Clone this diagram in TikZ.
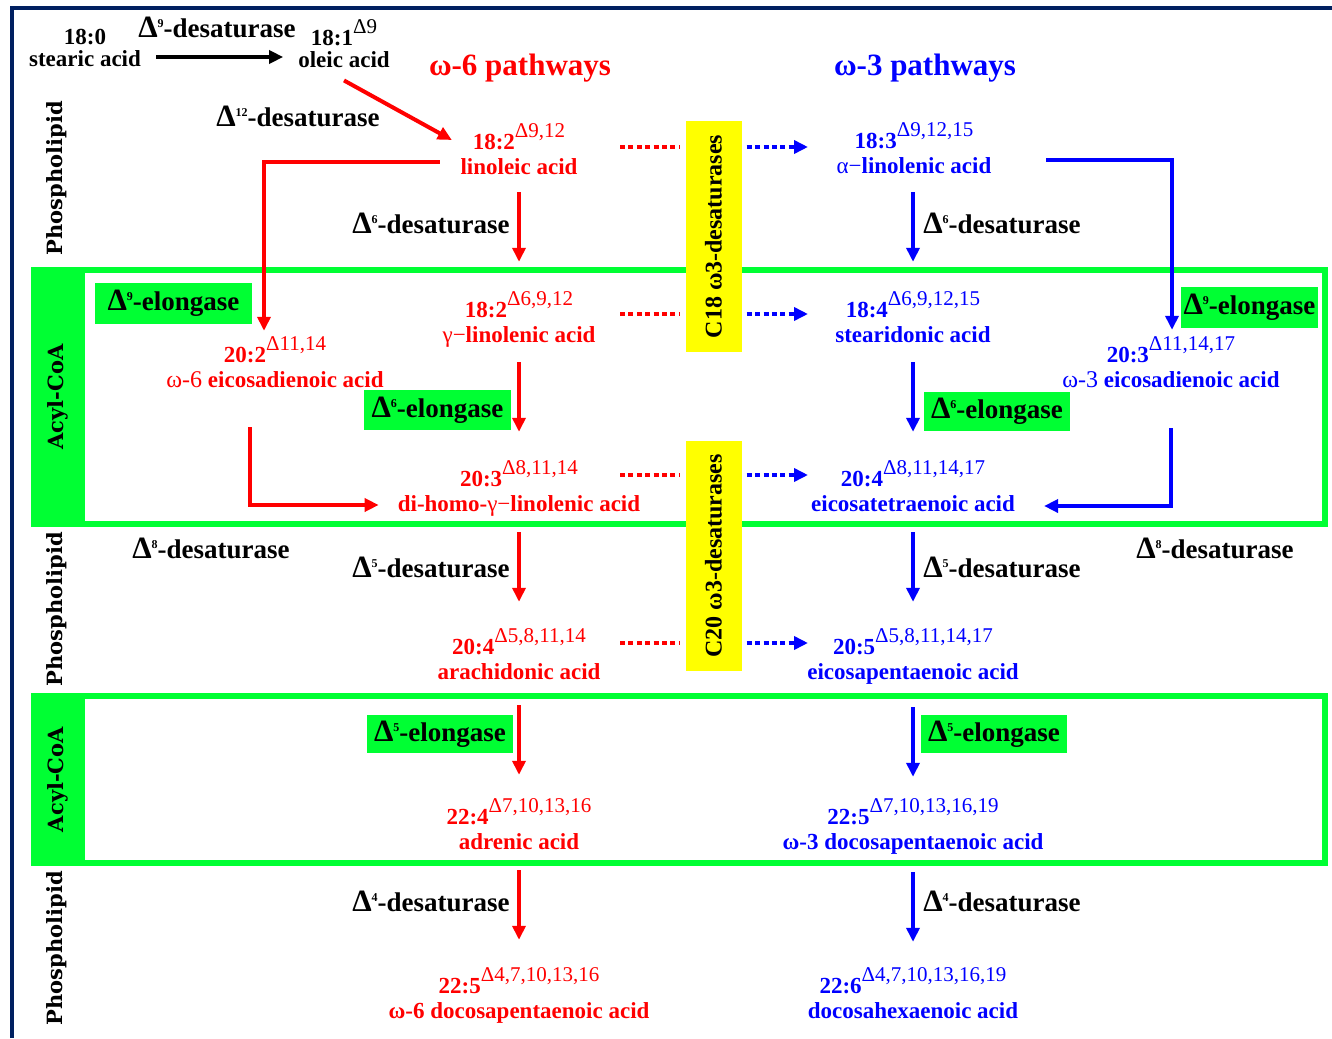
\documentclass[tikz,border=0pt]{standalone}
\usepackage{fontspec}
\setmainfont{Liberation Serif}
\newfontfamily\slab{DejaVu Serif}
\usetikzlibrary{arrows.meta}
\definecolor{cR}{RGB}{255,0,0}
\definecolor{cB}{RGB}{0,0,255}
\definecolor{cG}{RGB}{0,255,51}
\definecolor{cY}{RGB}{255,255,0}
\definecolor{cN}{RGB}{0,32,96}
\newcommand\fml[2]{#1\raisebox{11.5pt}{\mdseries\fontsize{21}{21}\selectfont Δ#2}}
\newcommand\enzl[2]{{\fontsize{31}{31}\selectfont Δ}\raisebox{10pt}{\fontsize{12}{12}\selectfont #1}-#2}
\newcommand\vp{\vphantom{p}}
\begin{document}
\begin{tikzpicture}[x=1pt,y=-1pt,
  acid/.style={inner sep=0pt, minimum height=56pt, align=center, font=\bfseries\fontsize{23}{25}\selectfont},
  racid/.style={acid,text=cR}, bacid/.style={acid,text=cB},
  enz/.style={anchor=base, inner sep=0pt, font=\bfseries\fontsize{27}{28}\selectfont},
  elong/.style={fill=cG, inner sep=0pt, font=\bfseries\fontsize{27}{28}\selectfont},
  band/.style={fill=cG, inner sep=0pt, minimum height=54pt, font=\slab\bfseries\fontsize{21}{21}\selectfont},
  side/.style={inner sep=0pt, font=\slab\bfseries\fontsize{21}{21}\selectfont},
  ybox/.style={fill=cY, inner sep=0pt, minimum height=56pt, font=\bfseries\fontsize{24}{24}\selectfont},
  frame/.style={draw=cG, line width=6pt},
  arrtip/.style={-{Triangle[length=14pt,width=13pt]}},
  rarr/.style={draw=cR, line width=4pt, arrtip},
  barr/.style={draw=cB, line width=4pt, arrtip},
  karr/.style={draw=black, line width=4pt, arrtip},
  rdot/.style={draw=cR, line width=4pt, dash pattern=on 5pt off 3.4pt},
  bdot/.style={draw=cB, line width=4pt, dash pattern=on 5pt off 3.4pt, arrtip},
  head/.style={anchor=base, inner sep=0pt, font=\bfseries\fontsize{31}{31}\selectfont}
]
\useasboundingbox (0,0) rectangle (1332,1038);
% border
\draw[cN, line width=4pt] (11.5,1038) -- (11.5,8.5) -- (1332,8.5);
% green frames
\draw[frame] (85,270) -- (1325,270) -- (1325,524) -- (85,524);
\draw[frame] (85,696) -- (1325,696) -- (1325,863) -- (85,863);
\node[band, rotate=90, minimum width=260pt] (acyl1) at (58,397) {Acyl-CoA};
\node[band, rotate=90, minimum width=173pt] (acyl2) at (58,779.5) {Acyl-CoA};
\node[side, rotate=90] (pl1) at (57,178) {Phospholipid};
\node[side, rotate=90] (pl2) at (57,609) {Phospholipid};
\node[side, rotate=90] (pl3) at (57,948) {Phospholipid};
% yellow boxes
\node[ybox, rotate=90, minimum width=231pt] (c18) at (713.5,236.5) {C18 ω3-desaturases};
\node[ybox, rotate=90, minimum width=230pt] (c20) at (713.5,556) {C20 ω3-desaturases};
% headers
\node[head, text=cR] (h6) at (520,76) {ω-6 pathways};
\node[head, text=cB] (h3) at (925,76) {ω-3 pathways};
% top
\node[acid, minimum height=43pt, font=\bfseries\fontsize{23}{22}\selectfont] (st) at (85,50.75) {18:0\\stearic acid\vp};
\node[acid, minimum height=53pt, font=\bfseries\fontsize{23}{22}\selectfont] (ol) at (344,45.75) {\fml{18:1}{9}\\oleic acid\vp};
% acids
\node[racid] (la) at (519,151.5) {\fml{18:2}{9,12}\\linoleic acid\vp};
\node[bacid] (ala) at (914,150.5) {\fml{18:3}{9,12,15}\\{\mdseries α−}linolenic acid\vp};
\node[racid] (gla) at (519,319.5) {\fml{18:2}{6,9,12}\\{\mdseries γ−}linolenic acid\vp};
\node[bacid] (sda) at (913,319.5) {\fml{18:4}{6,9,12,15}\\stearidonic acid\vp};
\node[racid] (eda6) at (275,364.5) {\fml{20:2}{11,14}\\{\mdseries\fontsize{24}{25}\selectfont ω-6} eicosadienoic acid\vp};
\node[bacid] (eda3) at (1171,364.5) {\fml{20:3}{11,14,17}\\{\mdseries\fontsize{24}{25}\selectfont ω-3} eicosadienoic acid\vp};
\node[racid] (dgla) at (519,488.5) {\fml{20:3}{8,11,14}\\di-homo-{\mdseries γ−}linolenic acid\vp};
\node[bacid] (eta) at (913,488.5) {\fml{20:4}{8,11,14,17}\\eicosatetraenoic acid\vp};
\node[racid] (ara) at (519,656.5) {\fml{20:4}{5,8,11,14}\\arachidonic acid\vp};
\node[bacid] (epa) at (913,656.5) {\fml{20:5}{5,8,11,14,17}\\eicosapentaenoic acid\vp};
\node[racid] (adr) at (519,826.5) {\fml{22:4}{7,10,13,16}\\adrenic acid\vp};
\node[bacid] (dpa3) at (913,826.5) {\fml{22:5}{7,10,13,16,19}\\ω-3 docosapentaenoic acid\vp};
\node[racid] (dpa6) at (519,995.5) {\fml{22:5}{4,7,10,13,16}\\ω-6 docosapentaenoic acid\vp};
\node[bacid] (dha) at (913,995.5) {\fml{22:6}{4,7,10,13,16,19}\\docosahexaenoic acid\vp};
% enzyme labels
\node[enz] (d9) at (217,38) {\enzl{9}{desaturase}};
\node[enz] (d12) at (298,127) {\enzl{12}{desaturase}};
\node[enz] (d6r) at (431,233) {\enzl{6}{desaturase}};
\node[enz] (d6b) at (1002,233) {\enzl{6}{desaturase}};
\node[enz] (d8r) at (211,558) {\enzl{8}{desaturase}};
\node[enz] (d8b) at (1215,558) {\enzl{8}{desaturase}};
\node[enz] (d5r) at (431,577) {\enzl{5}{desaturase}};
\node[enz] (d5b) at (1002,577) {\enzl{5}{desaturase}};
\node[enz] (d4r) at (431,911) {\enzl{4}{desaturase}};
\node[enz] (d4b) at (1002,911) {\enzl{4}{desaturase}};
\node[elong, minimum width=157pt, minimum height=41pt] (e9r) at (173.5,303.5) {\enzl{9}{elongase}};
\node[elong, minimum width=137pt, minimum height=41pt] (e9b) at (1249.5,307.5) {\enzl{9}{elongase}};
\node[elong, minimum width=147pt, minimum height=40pt] (e6r) at (437.5,410) {\enzl{6}{elongase}};
\node[elong, minimum width=146pt, minimum height=39pt] (e6b) at (997,411.5) {\enzl{6}{elongase}};
\node[elong, minimum width=146pt, minimum height=38pt] (e5r) at (440,734) {\enzl{5}{elongase}};
\node[elong, minimum width=146pt, minimum height=38pt] (e5b) at (994,734) {\enzl{5}{elongase}};
% top arrows
\draw[karr, shorten <=15pt, shorten >=15pt] ([yshift=-6.25pt]st.east) -- ([yshift=-11.25pt]ol.west);
\draw[rarr] ([yshift=-8pt]ol.south) -- ([xshift=-8.5pt,yshift=11.5pt]la.west);
% vertical arrows red
\draw[rarr, shorten <=12.5pt, shorten >=29.5pt] (la) -- (gla);
\draw[rarr, shorten <=14.5pt, shorten >=28.5pt] (gla) -- (dgla);
\draw[rarr, shorten <=15.5pt, shorten >=26.5pt] (dgla) -- (ara);
\draw[rarr, shorten <=20.5pt, shorten >=23.5pt] (ara) -- (adr);
\draw[rarr, shorten <=15.5pt, shorten >=27.5pt] (adr) -- (dpa6);
% vertical arrows blue
\draw[barr, shorten <=13.5pt, shorten >=29.5pt] (ala.south -| sda) -- (sda);
\draw[barr, shorten <=14.5pt, shorten >=28.5pt] (sda) -- (eta);
\draw[barr, shorten <=15.5pt, shorten >=26.5pt] (eta) -- (epa);
\draw[barr, shorten <=22.5pt, shorten >=21.5pt] (epa) -- (dpa3);
\draw[barr, shorten <=17.5pt, shorten >=25.5pt] (dpa3) -- (dha);
% elbows
\draw[rarr, shorten <=20.5pt, shorten >=5.5pt] ([yshift=-10.5pt]la.west) -| ([xshift=-11pt]eda6.north);
\draw[rarr, shorten <=34.5pt, shorten >=19pt] ([xshift=-25pt]eda6.south) |- ([yshift=-16.5pt]dgla.west);
\draw[barr, shorten <=54.5pt, shorten >=6.5pt] ([yshift=-9.5pt]ala.east) -| ([xshift=1pt]eda3.north);
\draw[barr, shorten <=35.5pt, shorten >=29pt] (eda3.south) |- ([yshift=-17.5pt]eta.east);
% dotted connectors
\coordinate (rd1) at (620,147); \coordinate (bd1) at (808,147);
\coordinate (rd2) at (620,314); \coordinate (bd2) at (808,314);
\coordinate (rd3) at (620,475); \coordinate (bd3) at (808,475);
\coordinate (rd4) at (620,643); \coordinate (bd4) at (808,643);
\draw[rdot, shorten >=6pt] (rd1) -- (rd1 -| c18.north);
\draw[rdot, shorten >=6pt] (rd2) -- (rd2 -| c18.north);
\draw[rdot, shorten >=6pt] (rd3) -- (rd3 -| c20.north);
\draw[rdot, shorten >=6pt] (rd4) -- (rd4 -| c20.north);
\draw[bdot, shorten <=5pt] (bd1 -| c18.south) -- (bd1);
\draw[bdot, shorten <=5pt] (bd2 -| c18.south) -- (bd2);
\draw[bdot, shorten <=5pt] (bd3 -| c20.south) -- (bd3);
\draw[bdot, shorten <=5pt] (bd4 -| c20.south) -- (bd4);
\end{tikzpicture}
\end{document}
